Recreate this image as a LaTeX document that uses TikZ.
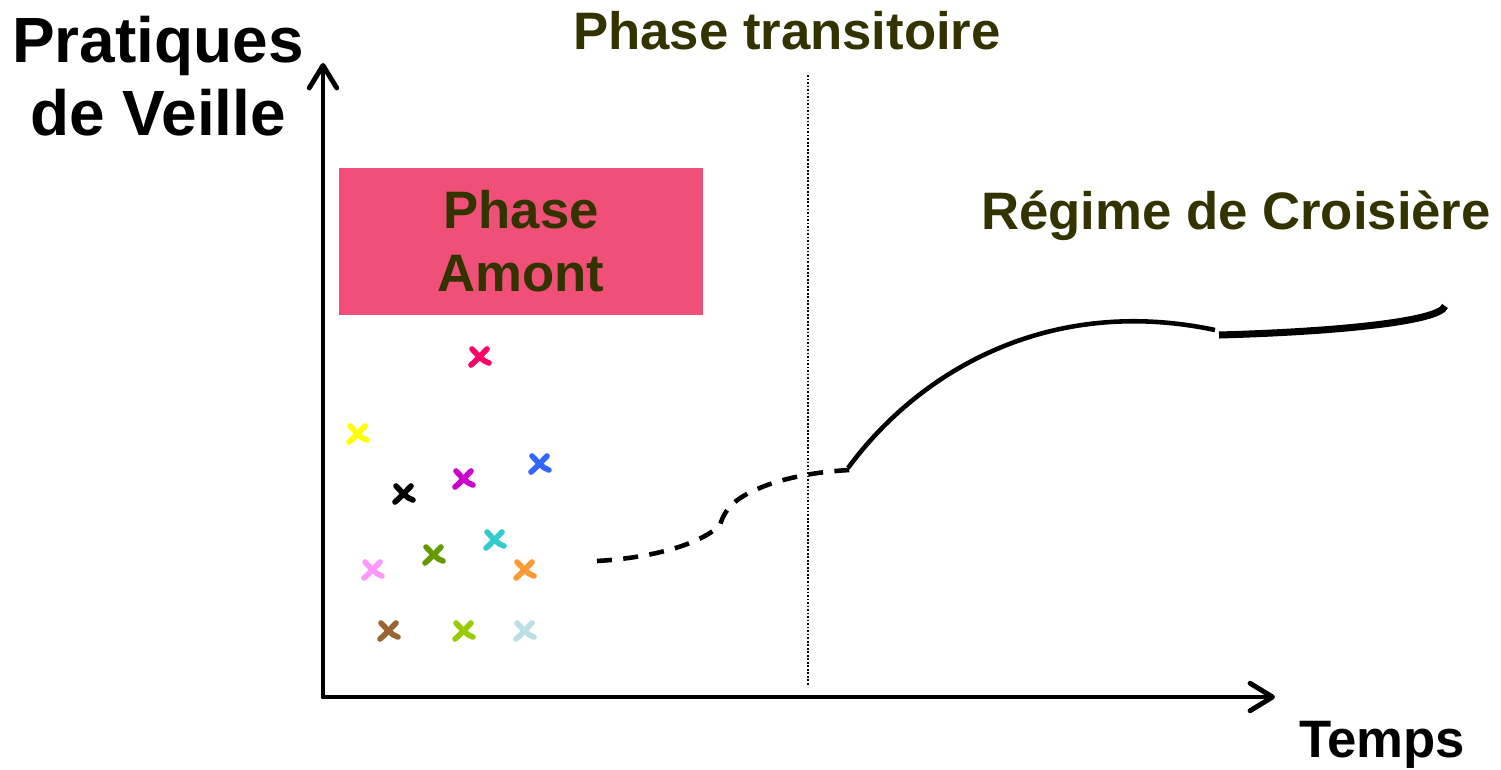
\documentclass[tikz,border=0pt]{standalone}
\usepackage{fontspec}
\setmainfont{Liberation Sans}
\usepackage{tikz}
\usetikzlibrary{arrows.meta}
\usetikzlibrary{positioning}
\definecolor{olivetexte}{RGB}{51,51,0}
\definecolor{rosebloc}{RGB}{240,80,120}
\definecolor{xrouge}{RGB}{255,0,102}
\definecolor{xjaune}{RGB}{255,255,0}
\definecolor{xbleu}{RGB}{51,102,255}
\definecolor{xmagenta}{RGB}{204,0,204}
\definecolor{xturquoise}{RGB}{51,204,204}
\definecolor{xolive}{RGB}{102,153,0}
\definecolor{xrose}{RGB}{255,153,255}
\definecolor{xorange}{RGB}{255,153,51}
\definecolor{xbrun}{RGB}{153,102,51}
\definecolor{xvert}{RGB}{153,204,0}
\definecolor{xciel}{RGB}{187,224,227}

\begin{document}
\begin{tikzpicture}[
		x=0.02cm, y=-0.02cm,
		every node/.style={font=\bfseries, inner sep=0pt},
		titre/.style={font=\fontsize{30}{36}\selectfont\bfseries, text=olivetexte},
		axe/.style={line width=2.8pt, line join=round, {Straight Barb[length=4.5mm, width=5.5mm, round]}-{Straight Barb[length=4.5mm, width=5.5mm, round]}},
		croix/.style={line width=3.2pt, line cap=round},
		courbe/.style={line width=2.6pt}
	]
	\useasboundingbox (0,0) rectangle (1501,770);

	% axes
	\coordinate (O) at (323,697);
	\coordinate (ytop) at (323,63);
	\coordinate (xend) at (1275,697);
	\draw[axe] (ytop) -- (O) -- (xend);

	\node[align=center, font=\fontsize{36.4}{41.5}\selectfont\bfseries] (ylab) at (158,76) {Pratiques\\de Veille};
	\node[font=\fontsize{30}{36}\selectfont\bfseries, anchor=base] (xlab) at (1382,757) {Temps};

	% separation
	\coordinate (septop) at (808,75);
	\coordinate (sepbot) at (808,685);
	\draw[line width=0.8pt, dash pattern=on 1pt off 1pt] (septop) -- (sepbot);
	\node[titre, anchor=base] (transit) at (787,50) {Phase transitoire};
	\node[titre, anchor=base] (croisiere) at (1236,230) {Régime de Croisière};

	\node[fill=rosebloc, minimum width=364*0.02cm, minimum height=147*0.02cm] (amont) at (521,241.5) {};
	\node[titre, align=center] (amonttxt) at (amont) {Phase\\Amont};

	% croix
	\foreach \px/\py/\col in {480/357/xrouge, 358/434/xjaune, 540/464/xbleu, 464/479/xmagenta,
			404/494/black, 495/540/xturquoise, 434/555/xolive, 373/570/xrose, 525/570/xorange,
			389/631/xbrun, 464/631/xvert, 525/631/xciel}{
		\draw[croix, \col] (\px-8,\py-8) .. controls (\px-2,\py-2) and (\px+2,\py+4) .. (\px+9,\py+6);
		\draw[croix, \col] (\px-9,\py+8) .. controls (\px-2,\py+2) and (\px+3,\py-4) .. (\px+7,\py-8);
	}

	% evolution
	\coordinate (d0) at (597,561);
	\coordinate (d1) at (720,525);
	\coordinate (d2) at (770,484);
	\coordinate (d3) at (850,470);
	\draw[courbe, dash pattern=on 8.5pt off 6.5pt] (d0) .. controls (650,558) and (700,545) .. (d1)
		.. controls (726,505) and (740,495) .. (d2) .. controls (800,474) and (830,471) .. (d3);
	\coordinate (c0) at (848,468);
	\coordinate (c1) at (1215,330);
	\draw[courbe] (c0) .. controls (920,370) and (1050,295) .. (c1);
	\coordinate (e0) at (1219,335);
	\coordinate (e1) at (1445,306);
	\draw[line width=4pt] (e0) .. controls (1330,332) and (1440,322) .. (e1);
\end{tikzpicture}
\end{document}
